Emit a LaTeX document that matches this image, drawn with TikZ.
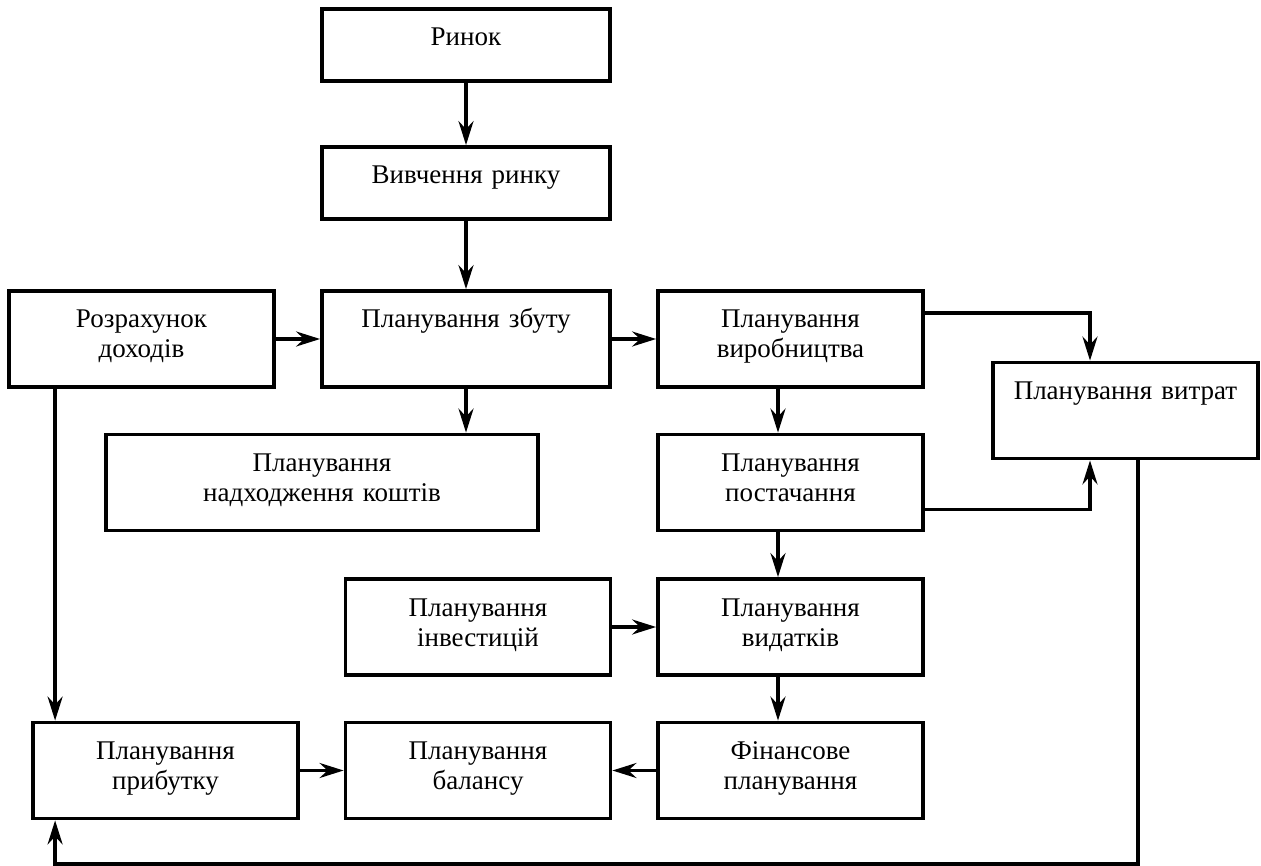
\documentclass[tikz,border=0pt]{standalone}
\usepackage{fontspec}
\setmainfont{Liberation Serif}
\usetikzlibrary{arrows.meta,positioning,calc}

\begin{document}
\begin{tikzpicture}[x=1pt, y=-1pt, >={Stealth[length=24pt, width=15pt, inset=8pt]}]
  \tikzstyle{box}=[rectangle, draw, line width=3.8pt, inner xsep=0pt, inner ysep=0pt, text width=265pt, align=center, text height=37pt, text depth=59pt, font=\fontsize{27}{30}\selectfont]
  \tikzstyle{short}=[text depth=35pt]
  \tikzstyle{wide}=[text width=288pt]
  \tikzstyle{link}=[->, line width=3.4pt]
  \useasboundingbox (0,0) rectangle (1261,866);
  \node[box, wide, short] (rynok) at (466,45) {Ринок};
  \node[box, wide, short] (vyvch) at (466,183) {Вивчення ринку};
  \node[box, wide] (zbut) at (466,339) {Планування збуту};
  \node[box] (rozrakh) at (141.5,339) {Розрахунок\\ доходів};
  \node[box] (vyrob) at (790.5,339) {Планування\\ виробництва};
  \node[box] (vytrat) at (1125.5,410.5) {Планування витрат};
  \node[box, text width=432pt] (nadkh) at (322,482.5) {Планування\\ надходження коштів};
  \node[box] (postach) at (790.5,482.5) {Планування\\ постачання};
  \node[box] (invest) at (478,627) {Планування\\ інвестицій};
  \node[box] (vydatk) at (790.5,627) {Планування\\ видатків};
  \node[box] (prybut) at (165.5,770.5) {Планування\\ прибутку};
  \node[box] (balans) at (478,770.5) {Планування\\ балансу};
  \node[box] (fin) at (790.5,770.5) {Фінансове\\ планування};
  \coordinate (bottom) at (0,864);
  \draw[link] (rynok) -- (vyvch);
  \draw[link] (vyvch) -- (zbut);
  \draw[link] (rozrakh) -- (zbut);
  \draw[link] (zbut) -- (vyrob);
  \draw[link] (zbut) -- (zbut |- nadkh.north);
  \draw[link] ([yshift=-24pt]vyrob.north east) -| ([xshift=-35.5pt]vytrat.north);
  \draw[link] ([xshift=-12.5pt]vyrob.south) -- ([xshift=-12.5pt]postach.north);
  \draw[link] ([yshift=23pt]postach.south east) -| ([xshift=-35.5pt]vytrat.south);
  \draw[link] ([xshift=-12.5pt]postach.south) -- ([xshift=-12.5pt]vydatk.north);
  \draw[link] (invest) -- (vydatk);
  \draw[link] ([xshift=-12.5pt]vydatk.south) -- ([xshift=-12.5pt]fin.north);
  \draw[link] (fin) -- (balans);
  \draw[link] (prybut) -- (balans);
  \draw[link] ([xshift=48pt]rozrakh.south west) -- ([xshift=48pt]rozrakh.south west |- prybut.north);
  \draw[link] ([xshift=12.5pt]vytrat.south) |- ([xshift=24pt]prybut.south west |- bottom) -- ([xshift=24pt]prybut.south west);
\end{tikzpicture}
\end{document}
